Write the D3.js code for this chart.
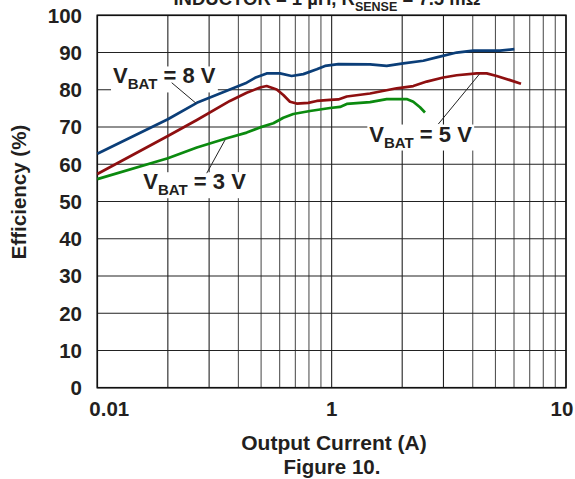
<!DOCTYPE html>
<html>
<head>
<meta charset="utf-8">
<script src="https://cdn.jsdelivr.net/npm/d3@7"></script>
<style>
  body { margin: 0; background: #fff; }
  text { font-family: Arial, "Liberation Sans", sans-serif; font-weight: bold; fill: #231f20; }
</style>
</head>
<body>
<div id="container"><svg></svg></div>
<script>
// efficiency vs output current (x in axis units, the printed first label reads 0.01)
let vbat8 = [
    [0.1, 62.8], [0.2, 72.1], [0.266, 76.5], [0.368, 80.1], [0.434, 81.9], [0.471, 83.2],
    [0.528, 84.4], [0.602, 84.4], [0.675, 83.7], [0.757, 84.2], [0.864, 85.5], [0.937, 86.4],
    [1.068, 86.9], [1.458, 86.8], [1.718, 86.4], [2.022, 87.1], [2.461, 87.8], [2.807, 88.7],
    [3.417, 90.0], [4.022, 90.5], [5.23, 90.5], [6.02, 90.9]
];
let vbat5 = [
    [0.1, 57.4], [0.2, 67.6], [0.266, 71.9], [0.368, 77.0], [0.434, 79.2], [0.495, 80.6],
    [0.528, 81.0], [0.583, 80.1], [0.622, 78.6], [0.664, 76.8], [0.709, 76.3], [0.795, 76.5],
    [0.864, 77.0], [0.984, 77.3], [1.068, 77.4], [1.16, 78.2], [1.458, 79.0], [1.895, 80.4],
    [2.23, 81.0], [2.544, 82.2], [2.995, 83.3], [3.417, 83.9], [4.159, 84.4], [4.587, 84.4],
    [5.062, 83.7], [5.768, 82.6], [6.427, 81.6]
];
let vbat3 = [
    [0.1, 56.0], [0.2, 61.6], [0.266, 64.5], [0.357, 67.0], [0.434, 68.5], [0.495, 69.9],
    [0.564, 71.0], [0.622, 72.5], [0.686, 73.5], [0.808, 74.3], [0.984, 75.1], [1.086, 75.4],
    [1.16, 76.2], [1.458, 76.7], [1.718, 77.5], [2.09, 77.5], [2.23, 76.8], [2.382, 75.3],
    [2.502, 73.9]
];
let x_ticks = [0.1, 1, 10];
let x_tick_labels = ['0.01', '1', '10'];
let y_ticks = [0, 10, 20, 30, 40, 50, 60, 70, 80, 90, 100];

let width = 575, height = 479;
let padding = {left: 97.3, right: 9, top: 15.3, bottom: 91.3};

let svg = d3.select('#container').select('svg')
    .attr('width', width)
    .attr('height', height);

let x = d3.scaleLog()
    .domain([0.1, 10])
    .range([padding.left, width - padding.right]);
let y = d3.scaleLinear()
    .domain([0, 100])
    .range([height - padding.bottom, padding.top]);

// title (top is cut off in the source)
let title = svg.append('text')
    .attr('x', 327)
    .attr('y', 5)
    .attr('text-anchor', 'middle')
    .attr('font-size', '18.5px');
title.append('tspan').text('INDUCTOR = 1 µH, R');
title.append('tspan').attr('font-size', '12.5px').attr('dy', 6).text('SENSE');
title.append('tspan').attr('dy', -6).text(' = 7.5 mΩ');

// grid
let grid = svg.append('g');
grid.selectAll('line.v')
    .data(x.ticks())
    .enter().append('line')
    .attr('x1', d => x(d)).attr('x2', d => x(d))
    .attr('y1', y(0)).attr('y2', y(100))
    .attr('stroke', d => [1, 2, 3, 0.1, 0.2, 0.3].some(v => Math.abs(v - d) < 1e-9) ? '#222' : '#555')
    .attr('stroke-width', 1.1);
grid.selectAll('line.h')
    .data(y_ticks)
    .enter().append('line')
    .attr('x1', x(0.1)).attr('x2', x(10))
    .attr('y1', d => y(d)).attr('y2', d => y(d))
    .attr('stroke', '#222')
    .attr('stroke-width', 1.1);

// frame
svg.append('rect')
    .attr('x', x(0.1)).attr('y', y(100))
    .attr('width', x(10) - x(0.1)).attr('height', y(0) - y(100))
    .attr('fill', 'none')
    .attr('stroke', '#111')
    .attr('stroke-width', 1.6);

// y axis labels
svg.append('g').selectAll('text')
    .data(y_ticks)
    .enter().append('text')
    .attr('x', 82)
    .attr('y', d => y(d))
    .attr('dy', '0.36em')
    .attr('text-anchor', 'end')
    .attr('font-size', '20.5px')
    .text(d => d);

// x axis labels
svg.append('g').selectAll('text')
    .data(x_ticks)
    .enter().append('text')
    .attr('x', d => x(d))
    .attr('dx', (d, i) => i == 0 ? 12 : (i == 2 ? -4 : 0))
    .attr('y', 416)
    .attr('text-anchor', 'middle')
    .attr('font-size', '20.5px')
    .text((d, i) => x_tick_labels[i]);

// axis titles
svg.append('text')
    .attr('transform', `translate(26, 192) rotate(-90)`)
    .attr('text-anchor', 'middle')
    .attr('font-size', '20.5px')
    .text('Efficiency (%)');
svg.append('text')
    .attr('x', 334).attr('y', 450)
    .attr('text-anchor', 'middle')
    .attr('font-size', '21px')
    .text('Output Current (A)');
svg.append('text')
    .attr('x', 332).attr('y', 474)
    .attr('text-anchor', 'middle')
    .attr('font-size', '20.5px')
    .text('Figure 10.');

// curves
let line = d3.line()
    .x(d => x(d[0]))
    .y(d => y(d[1]));
let series = [
    {data: vbat8, color: '#0b3e78'},
    {data: vbat5, color: '#8e0f10'},
    {data: vbat3, color: '#0b8a0f'}
];
svg.append('g').selectAll('path')
    .data(series)
    .enter().append('path')
    .attr('d', d => line(d.data))
    .attr('fill', 'none')
    .attr('stroke', d => d.color)
    .attr('stroke-width', 2.7)
    .attr('stroke-linejoin', 'round');

// annotations
function draw_label(xv, yv, volts, leader) {
    let g = svg.append('g');
    let bg = g.append('rect').attr('fill', '#fff');
    let t = g.append('text')
        .attr('x', x(xv)).attr('y', y(yv))
        .attr('font-size', '22px');
    t.append('tspan').text('V');
    t.append('tspan').attr('font-size', '15px').attr('dy', 6).text('BAT');
    t.append('tspan').attr('dy', -6).text(' = ' + volts + ' V');
    let b = t.node().getBBox();
    bg.attr('x', b.x - 2).attr('y', b.y + 3)
        .attr('width', b.width + 4).attr('height', b.height - 3);
    g.append('line')
        .attr('x1', x(leader[0])).attr('y1', y(leader[1]))
        .attr('x2', x(leader[2])).attr('y2', y(leader[3]))
        .attr('stroke', '#222')
        .attr('stroke-width', 1);
}
draw_label(0.1167, 81.7, 8, [0.2077, 81.9, 0.2636, 76.4]);
draw_label(0.1572, 53.3, 3, [0.2931, 57.6, 0.3506, 66.5]);
draw_label(1.448, 66.1, 5, [2.852, 70.8, 4.27, 84.2]);
</script>
</body>
</html>
